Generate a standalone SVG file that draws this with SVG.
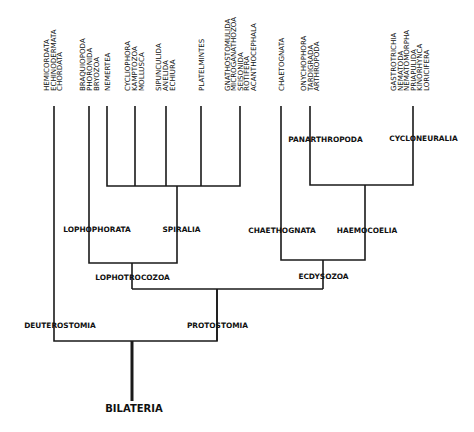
<svg xmlns="http://www.w3.org/2000/svg" width="474" height="432" viewBox="0 0 474 432">
<style>
.tip{font-family:"DejaVu Sans",Verdana,sans-serif;font-size:7.1px;fill:#111}
.lbl{font-family:"DejaVu Sans",Verdana,sans-serif;font-size:7.4px;font-weight:bold;fill:#111;text-anchor:middle}
.root{font-family:"DejaVu Sans",Verdana,sans-serif;font-size:10px;font-weight:bold;fill:#111;text-anchor:middle}
.ln{stroke:#1a1a1a;stroke-width:1.6;fill:none}
</style>
<rect width="474" height="432" fill="#fff"/>
<g id="connectors" class="ln">
<path d="M54 106V341H217V289"/>
<path d="M132 289H323"/>
<path d="M89 106V263H177V186"/>
<path d="M132 263V289"/>
<path d="M107 106V186H240V106"/>
<path d="M135 106V186M166 106V186M201 106V186"/>
<path d="M281 106V260H365V185"/>
<path d="M310 106V185H413V106"/>
<path d="M323 260V289"/>
<path d="M217 289V341"/>
<path d="M132 341V401" stroke-width="3"/>
</g>
<g id="tip-deuterostomia" class="tip">
<text transform="translate(49,91) rotate(-90)">HEMICORDATA</text>
<text transform="translate(55.5,91) rotate(-90)">ECHINODERMATA</text>
<text transform="translate(62,91) rotate(-90)">CHORDATA</text>
</g>
<g id="tip-lophophorata" class="tip">
<text transform="translate(84.5,91) rotate(-90)">BRAQUIOPODA</text>
<text transform="translate(91.5,91) rotate(-90)">PHORONIDA</text>
<text transform="translate(98.5,91) rotate(-90)">BRYOZOA</text>
</g>
<g id="tip-nemertea" class="tip">
<text transform="translate(109.5,91) rotate(-90)">NEMERTEA</text>
</g>
<g id="tip-cycliophora" class="tip">
<text transform="translate(130,91) rotate(-90)">CYCLIOPHORA</text>
<text transform="translate(137,91) rotate(-90)">KAMPTOZOA</text>
<text transform="translate(144,91) rotate(-90)">MOLLUSCA</text>
</g>
<g id="tip-sipunculida" class="tip">
<text transform="translate(161,91) rotate(-90)">SIPUNCULIDA</text>
<text transform="translate(168,91) rotate(-90)">ANELIDA</text>
<text transform="translate(175,91) rotate(-90)">ECHIURA</text>
</g>
<g id="tip-platelmintes" class="tip">
<text transform="translate(203.5,91) rotate(-90)">PLATELMINTES</text>
</g>
<g id="tip-gnathostomulida" class="tip">
<text transform="translate(229.5,91) rotate(-90)">GNATHOSTOMULIDA</text>
<text transform="translate(236,91) rotate(-90)">MICROGANATHOZOA</text>
<text transform="translate(242.5,91) rotate(-90)">SEISONIDA</text>
<text transform="translate(249,91) rotate(-90)">ROTIFERA</text>
<text transform="translate(255.5,91) rotate(-90)">ACANTHOCEPHALA</text>
</g>
<g id="tip-chaetognata" class="tip">
<text transform="translate(283.5,91) rotate(-90)">CHAETOGNATA</text>
</g>
<g id="tip-panarthropoda" class="tip">
<text transform="translate(306,91) rotate(-90)">ONYCHOPHORA</text>
<text transform="translate(312.5,91) rotate(-90)">TARDIGRADA</text>
<text transform="translate(319,91) rotate(-90)">ARTHROPODA</text>
</g>
<g id="tip-cycloneuralia" class="tip">
<text transform="translate(396,91) rotate(-90)">GASTROTRICHIA</text>
<text transform="translate(402.5,91) rotate(-90)">NEMATODA</text>
<text transform="translate(409,91) rotate(-90)">NEMATOMORPHA</text>
<text transform="translate(415.5,91) rotate(-90)">PRIAPULIDA</text>
<text transform="translate(422,91) rotate(-90)">KINORHYNCA</text>
<text transform="translate(428.5,91) rotate(-90)">LORICIFERA</text>
</g>
<g id="lophophorata"><text class="lbl" x="97" y="232">LOPHOPHORATA</text></g>
<g id="spiralia"><text class="lbl" x="181.5" y="232">SPIRALIA</text></g>
<g id="chaethognata"><text class="lbl" x="282" y="233">CHAETHOGNATA</text></g>
<g id="haemocoelia"><text class="lbl" x="367" y="233">HAEMOCOELIA</text></g>
<g id="panarthropoda"><text class="lbl" x="325.5" y="142">PANARTHROPODA</text></g>
<g id="cycloneuralia"><text class="lbl" x="423.5" y="141">CYCLONEURALIA</text></g>
<g id="lophotrocozoa"><text class="lbl" x="132.5" y="280">LOPHOTROCOZOA</text></g>
<g id="ecdysozoa"><text class="lbl" x="323.5" y="279">ECDYSOZOA</text></g>
<g id="deuterostomia"><text class="lbl" x="60" y="328">DEUTEROSTOMIA</text></g>
<g id="protostomia"><text class="lbl" x="217.5" y="328">PROTOSTOMIA</text></g>
<g id="bilateria"><text class="root" x="134" y="412">BILATERIA</text></g>
</svg>
